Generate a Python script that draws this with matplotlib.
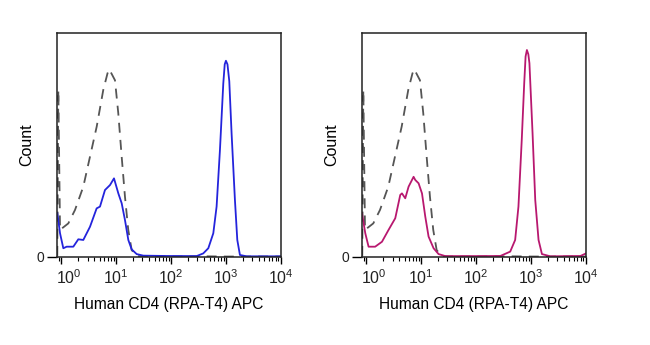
import matplotlib
matplotlib.use('Agg')
import matplotlib.pyplot as plt
import matplotlib.transforms as mtransforms
import numpy as np

plt.rcParams['font.family'] = ['Liberation Sans', 'DejaVu Sans']
plt.rcParams['mathtext.default'] = 'regular'

# log10(fluorescence) and count (% of axis height)
ctrl_log = [-0.075, -0.056, -0.025, 0.126, 0.248, 0.399, 0.521, 0.643, 0.763, 0.84, 0.872,
            0.91, 0.976, 1.036, 1.098, 1.158, 1.218, 1.280, 1.371, 1.52, 2.0, 2.6, 3.0, 3.5, 4.0]
ctrl_cnt = [0.5, 74.6, 12.1, 15.0, 21.0, 31.4, 44.8, 58.2, 74.6, 82.0, 83.8,
            82.0, 78.9, 64.2, 44.8, 26.9, 12.1, 3.1, 0.4, 0.2, 0.2, 0.3, 0.2, 0.2, 0.2]

left_log = [-0.074, -0.025, 0.035, 0.096, 0.217, 0.308, 0.399, 0.521, 0.642, 0.703,
            0.794, 0.885, 0.958, 1.037, 1.098, 1.158, 1.219, 1.280, 1.371, 1.492,
            1.917, 2.463, 2.584, 2.676, 2.767, 2.827, 2.888, 2.949, 2.975, 2.997, 3.025,
            3.058, 3.100, 3.161, 3.204, 3.252, 3.373, 4.0]
left_cnt = [19.5, 10.6, 3.9, 4.6, 4.6, 7.9, 7.6, 13.5, 21.7, 22.5,
            29.9, 32.1, 35.1, 28.4, 24.0, 16.5, 7.6, 3.4, 1.3, 0.6,
            0.45, 0.4, 1.6, 3.9, 10.6, 22.5, 47.8, 77.5, 86.0, 87.6, 86.0,
            78.5, 55.2, 25.4, 7.6, 0.9, 0.3, 0.3]

right_log = [-0.08, -0.02, 0.04, 0.16, 0.284, 0.404, 0.526, 0.617, 0.648, 0.708,
             0.769, 0.86, 0.89, 0.951, 1.013, 1.073, 1.133, 1.224, 1.315, 1.437,
             2.0, 2.44, 2.62, 2.71, 2.77, 2.83, 2.875, 2.90, 2.924, 2.95, 2.97, 3.027,
             3.076, 3.136, 3.198, 3.35, 3.9, 4.0]
right_cnt = [19.5, 10.6, 4.6, 4.6, 6.8, 12.1, 17.3, 27.7, 28.4, 26.2,
             31.4, 35.8, 34.4, 32.9, 28.4, 18.0, 9.1, 3.9, 1.3, 0.4,
             0.4, 0.45, 2.4, 7.6, 22.5, 52.2, 77.5, 89.5, 92.4, 90.5, 86.5, 55.2,
             25.4, 7.6, 1.3, 0.3, 0.45, 1.6]

xlabel = 'Human CD4 (RPA-T4) APC'
decades = [0, 1, 2, 3, 4]

fig = plt.figure(figsize=(6.5, 3.45), dpi=100, facecolor='white')

panels = [(0.0877, left_log, left_cnt, '#2424dc'),
          (0.5569, right_log, right_cnt, '#b8186f')]

for x0, lg, cnt, col in panels:
    ax = fig.add_axes([x0, 0.2551, 0.3446, 0.6493])
    ax.set_xscale('log')
    ax.plot(10 ** np.array(ctrl_log), ctrl_cnt, color='#555555', lw=1.3,
            dashes=(5.5, 4))
    ax.plot(10 ** np.array(lg), cnt, color=col, lw=1.3)
    ax.set_xlim(10 ** -0.08, 1e4)
    ax.set_ylim(0, 100)
    ax.set_xticks([10.0 ** d for d in decades])
    ax.set_xticklabels(['$10^{%d}$' % d for d in decades], fontsize=11.5, color='#222222')
    ax.xaxis.set_minor_locator(matplotlib.ticker.LogLocator(base=10, subs=np.arange(2, 10), numticks=20))
    ax.xaxis.set_minor_formatter(matplotlib.ticker.NullFormatter())
    ax.tick_params(axis='x', which='major', direction='out', length=5, width=1, pad=3)
    ax.tick_params(axis='x', which='minor', direction='out', length=3, width=0.8)
    # first decade label sits a bit to the right, as in the original
    lab0 = ax.get_xticklabels()[0]
    lab0.set_transform(lab0.get_transform() + mtransforms.ScaledTranslation(7 / 100, 0, fig.dpi_scale_trans))
    ax.set_yticks([0])
    ax.set_yticklabels(['0'], fontsize=10, color='#222222')
    ax.tick_params(axis='y', direction='out', length=7, width=1, pad=2)
    for s in ax.spines.values():
        s.set_color('#222222')
        s.set_linewidth(1.1)
    ax.set_xlabel(xlabel, fontsize=11.2, labelpad=7)
    ax.set_ylabel('Count', fontsize=11.5, labelpad=2)

fig.savefig('out.png', dpi=100, facecolor='white')
